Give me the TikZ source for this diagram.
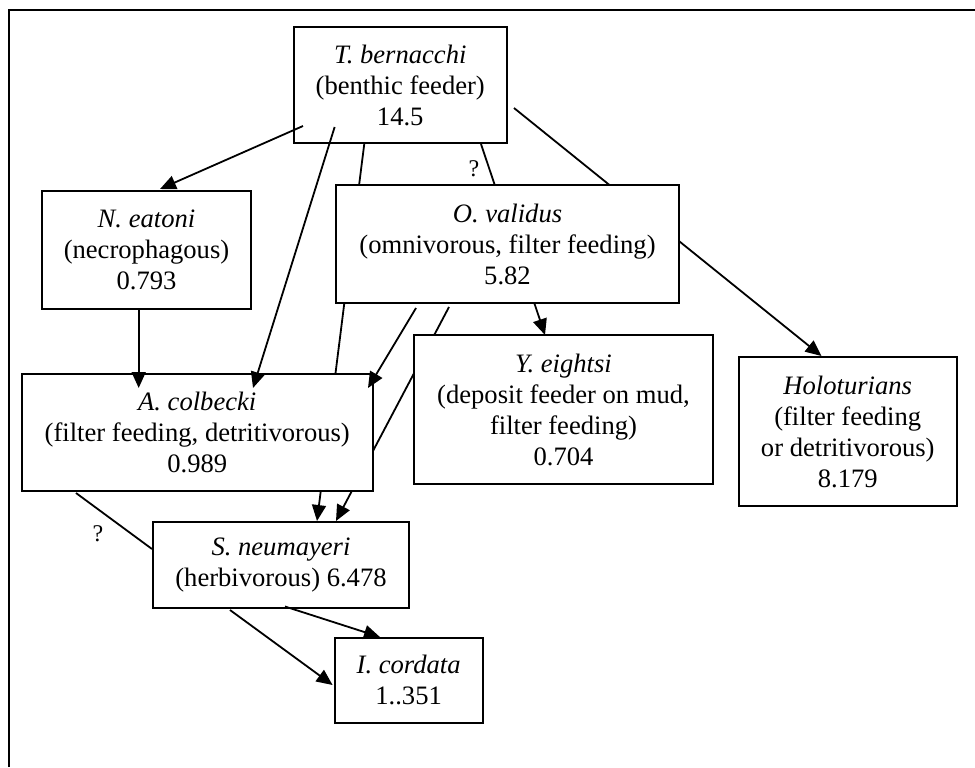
\documentclass[tikz,border=0pt]{standalone}
\usepackage{fontspec}
\setmainfont{Liberation Serif}
\usetikzlibrary{arrows.meta,calc}
\begin{document}
\begin{tikzpicture}[x=0.5pt,y=-0.5pt,
  box/.style={draw, line width=1pt, fill=white, inner sep=0pt, align=center,
    font=\fontsize{13.3}{15.5}\selectfont},
  link/.style={line width=0.9pt},
  arr/.style={link, -{Triangle[length=8pt,width=7pt]}},
  qmark/.style={font=\fontsize{12}{14}\selectfont, inner sep=0pt}]
\useasboundingbox (0,0) rectangle (975,767);
\draw[line width=1.1pt] (9,767) -- (9,10) -- (975,10);

% top box
\node[box, minimum width=106.75pt, minimum height=58pt] (tb) at (400.25,85)
  {\textit{T. bernacchi}\\(benthic feeder)\\14.5};

% long connectors passing behind boxes
\draw[arr] ($(tb.south)+(-36,0)$) -- (317,521) coordinate (snin1);
\draw[arr] ($(tb.south)+(80.75,0)$) -- (545,335) coordinate (yein);
\draw[arr] ($(tb.east)+(6,23)$) -- (821.5,356) coordinate (hoin);
\draw[arr] (449,307) coordinate (ovout) -- (336,521) coordinate (snin2);

% other boxes
\node[box, minimum width=104.5pt, minimum height=59pt] (ne) at (146.5,250)
  {\textit{N. eatoni}\\(necrophagous)\\0.793};
\node[box, minimum width=171.5pt, minimum height=59pt] (ov) at (507.5,244)
  {\textit{O. validus}\\(omnivorous, filter feeding)\\5.82};
\node[box, minimum width=175.25pt, minimum height=58.5pt] (ac) at (197.25,432.5)
  {\textit{A. colbecki}\\(filter feeding, detritivorous)\\0.989};
\node[box, minimum width=149.5pt, minimum height=74.5pt] (ye) at (563.5,409.5)
  {\textit{Y. eightsi}\\(deposit feeder on mud,\\filter feeding)\\0.704};
\node[box, minimum width=108.75pt, minimum height=74.5pt] (ho) at (847.75,431.5)
  {\textit{Holoturians}\\(filter feeding\\or detritivorous)\\8.179};
\node[box, minimum width=128pt, minimum height=43pt] (sn) at (281,565)
  {\textit{S. neumayeri}\\(herbivorous) 6.478};
\node[box, minimum width=74pt, minimum height=42.75pt] (ic) at (408.6,680.3)
  {\textit{I. cordata}\\1..351};

% connectors drawn on top
\draw[arr] ($(tb.south)+(-97.25,-18)$) -- ($(ne.north)+(13.5,-1)$);
\draw[arr] ($(tb.south)+(-65.6,-17)$) -- ($(ac.north)+(55.75,15)$);
\draw[arr] ($(ne.south)+(-7.8,-2)$) -- ($(ac.north)+(-58.55,15)$);
\draw[arr] ($(ov.south)+(-91.5,4)$) -- ($(ac.north east)+(-5.5,15)$);
\draw[link] ($(ac.south west)+(55,1)$) -- ($(sn.west)+(0,-16)$);
\draw[arr] ($(sn.south)+(4,-2.5)$) -- ($(ic.north)+(-28.6,0.5)$);
\draw[arr] ($(sn.south)+(-51,1)$) -- ($(ic.west)+(-1,4.7)$);

% question marks
\node[qmark] (q1) at (474,169) {?};
\node[qmark] (q2) at (98,534) {?};
\end{tikzpicture}
\end{document}
